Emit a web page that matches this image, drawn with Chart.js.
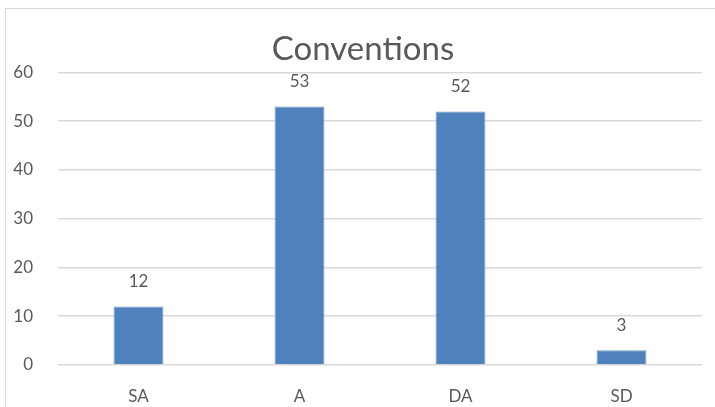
<!DOCTYPE html>
<html>
<head>
<meta charset="utf-8">
<script src="https://cdn.jsdelivr.net/npm/chart.js@4/dist/chart.umd.min.js"></script>
<style>
  html, body { margin: 0; padding: 0; background: #fff; }
  #wrap { position: relative; width: 715px; height: 407px; overflow: hidden; }
  #frame { position: absolute; left: 5px; top: 8px; width: 760px; height: 460px; border: 1px solid #d9d9d9; box-sizing: border-box; }
  canvas { position: absolute; left: 0; top: 0; }
</style>
</head>
<body>
<div id="wrap">
  <div id="frame"></div>
  <canvas id="c" width="715" height="407"></canvas>
</div>
<script>
const categories = ['SA', 'A', 'DA', 'SD'];
const responses = [12, 53, 52, 3];
const yTicks = [0, 10, 20, 30, 40, 50, 60];
const chartTitle = 'Conventions';

const FONT = 'Lato, "Open Sans", sans-serif';
const TEXT = '#595959';

// Value labels above each bar
const valueLabels = {
  id: 'valueLabels',
  afterDatasetsDraw(chart) {
    const ctx = chart.ctx;
    const meta = chart.getDatasetMeta(0);
    ctx.save();
    ctx.fillStyle = TEXT;
    ctx.font = '17px ' + FONT;
    ctx.textAlign = 'center';
    ctx.textBaseline = 'middle';
    meta.data.forEach((bar, i) => {
      ctx.fillText(String(chart.data.datasets[0].data[i]), bar.x, bar.y - 25);
    });
    ctx.restore();
  }
};

// Title text sits just above the top gridline, a little right of the canvas centre
const titleText = {
  id: 'titleText',
  afterDraw(chart) {
    const ctx = chart.ctx;
    ctx.save();
    ctx.fillStyle = TEXT;
    ctx.font = '33px ' + FONT;
    ctx.textAlign = 'center';
    ctx.textBaseline = 'middle';
    ctx.fillText(chartTitle, 363, chart.chartArea.top - 23);
    ctx.restore();
  }
};

new Chart(document.getElementById('c'), {
  type: 'bar',
  data: {
    labels: categories,
    datasets: [{
      data: responses,
      backgroundColor: '#4f81bd',
      borderColor: '#6f98cc',
      borderWidth: 1,
      categoryPercentage: 1,
      barPercentage: 0.31
    }]
  },
  options: {
    responsive: false,
    animation: false,
    layout: { padding: { left: 0, right: 13, top: 0, bottom: 0 } },
    plugins: {
      legend: { display: false },
      tooltip: { enabled: false },
      title: {
        display: true,
        text: chartTitle,
        color: 'rgba(0,0,0,0)',
        font: { family: FONT, size: 32, weight: 'normal' },
        padding: { top: 28, bottom: 6 }
      }
    },
    scales: {
      x: {
        grid: { display: false },
        border: { display: false },
        ticks: { color: TEXT, font: { family: FONT, size: 17 }, padding: 13 },
        afterFit(scale) { scale.height = 42; }
      },
      y: {
        min: 0,
        max: 60,
        grid: { color: '#d9d9d9', lineWidth: 1.5, drawTicks: false },
        border: { display: false },
        afterBuildTicks(scale) { scale.ticks = yTicks.map(v => ({ value: v })); },
        ticks: { color: TEXT, font: { family: FONT, size: 17 }, padding: 25 },
        afterFit(scale) { scale.width = 58; }
      }
    }
  },
  plugins: [valueLabels, titleText]
});
</script>
</body>
</html>
